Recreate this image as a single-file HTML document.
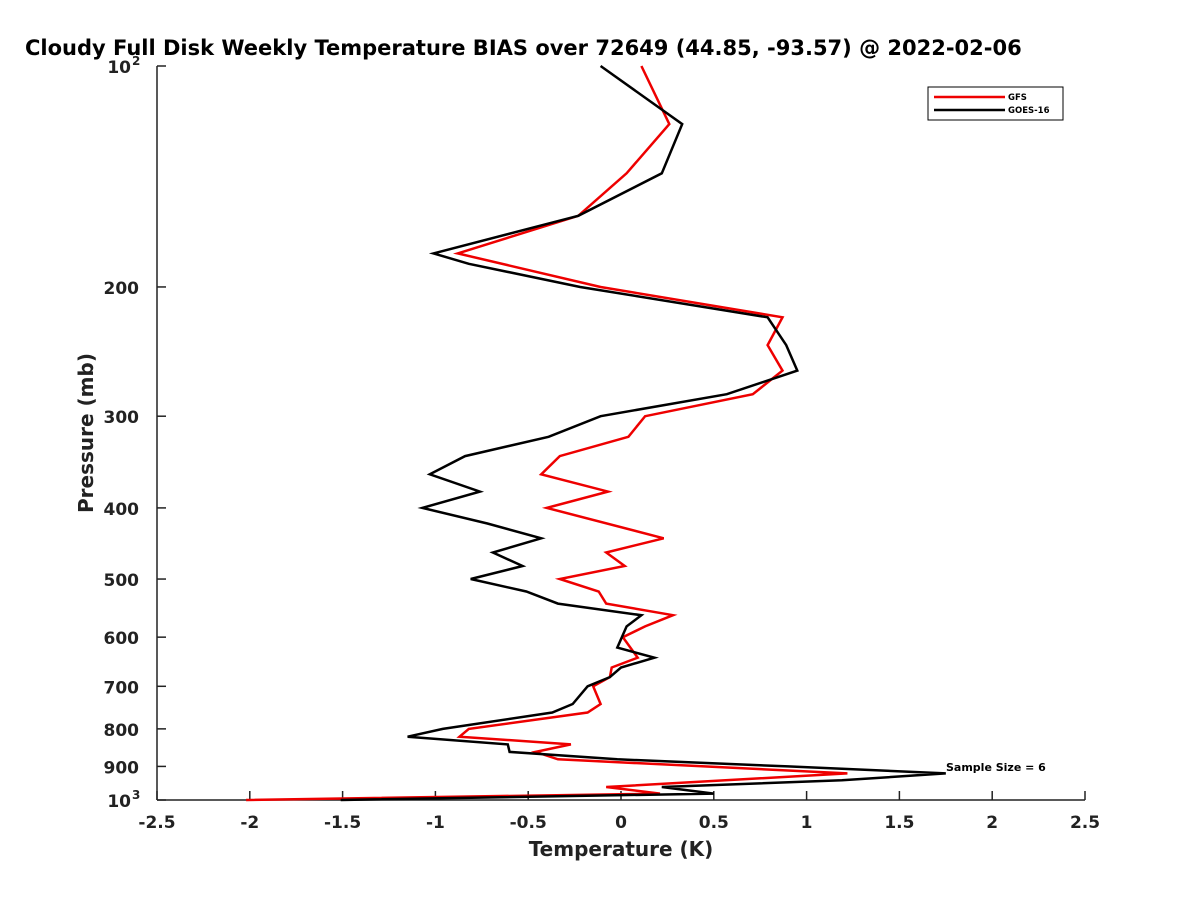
<!DOCTYPE html>
<html><head><meta charset="utf-8"><style>
html,body{margin:0;padding:0;background:#fff}
svg{display:block;font-family:"DejaVu Sans","Liberation Sans",sans-serif}
</style></head><body>
<svg id="chart" width="1200" height="900" viewBox="0 0 1200 900" xmlns="http://www.w3.org/2000/svg">
<rect width="1200" height="900" fill="#fff"/>
<text x="25" y="55" font-size="21" font-weight="bold" fill="#000">Cloudy Full Disk Weekly Temperature BIAS over 72649 (44.85, -93.57) @ 2022-02-06</text>
<g id="axes"></g>
<g id="series"></g>
<text x="946" y="771" font-size="11" font-weight="bold">Sample Size = 6</text>
<g>
<rect x="928" y="87" width="135" height="33" fill="#fff" stroke="#000" stroke-width="1"/>
<line x1="934" y1="97" x2="1005" y2="97" stroke="#e00" stroke-width="2.5"/>
<text x="1008" y="100" font-size="8.5" font-weight="bold">GFS</text>
<line x1="934" y1="110" x2="1005" y2="110" stroke="#000" stroke-width="2.5"/>
<text x="1008" y="113" font-size="8.5" font-weight="bold">GOES-16</text>
</g>
<text x="621" y="856" font-size="20" font-weight="bold" text-anchor="middle" fill="#222">Temperature (K)</text>
<text transform="translate(93,433) rotate(-90)" font-size="20" font-weight="bold" text-anchor="middle" fill="#222">Pressure (mb)</text>
</svg>
<script>
const xTicks = [-2.5,-2,-1.5,-1,-0.5,0,0.5,1,1.5,2,2.5];
const xTickLabels = ["-2.5","-2","-1.5","-1","-0.5","0","0.5","1","1.5","2","2.5"];
const yTicks = [200,300,400,500,600,700,800,900];
const gfsP = [100,120,140,160,180,200,220,240,260,280,300,320,340,360,380,400,440,460,480,500,520,540,560,580,600,640,660,680,700,740,760,800,820,840,860,880,900,920,960,980,1000];
const gfsT = [0.11,0.26,0.03,-0.23,-0.88,-0.11,0.87,0.79,0.87,0.71,0.13,0.04,-0.33,-0.43,-0.07,-0.40,0.23,-0.08,0.02,-0.33,-0.12,-0.08,0.28,0.13,0.01,0.09,-0.05,-0.06,-0.15,-0.11,-0.18,-0.82,-0.87,-0.27,-0.46,-0.34,0.45,1.22,-0.08,0.21,-2.02];
const goesP = [100,120,140,160,180,186,200,220,240,260,280,300,320,340,360,380,400,420,440,460,480,500,520,540,560,580,620,640,660,680,700,740,760,800,820,840,860,880,900,920,940,960,980,1000];
const goesT = [-0.11,0.33,0.22,-0.23,-1.01,-0.82,-0.22,0.79,0.89,0.95,0.57,-0.11,-0.39,-0.84,-1.03,-0.76,-1.07,-0.72,-0.43,-0.69,-0.53,-0.81,-0.51,-0.34,0.11,0.03,-0.02,0.18,0.0,-0.06,-0.18,-0.26,-0.37,-0.96,-1.15,-0.61,-0.60,-0.02,0.9,1.75,1.19,0.22,0.50,-1.51];

const NS="http://www.w3.org/2000/svg";
const X0=157,X1=1085,Y0=66,Y1=800;
function xs(t){return X0+(t+2.5)/5*(X1-X0);}
function ys(p){return Y0+(Math.log10(p)-2)*(Y1-Y0);}
function mk(tag,attrs,parent){const e=document.createElementNS(NS,tag);for(const k in attrs)e.setAttribute(k,attrs[k]);parent.appendChild(e);return e;}
const axes=document.getElementById('axes');
let e=mk('line',{x1:X0,y1:Y1,x2:X1,y2:Y1,stroke:'#222','stroke-width':1.5},axes);


e=mk('line',{x1:X0,y1:Y0,x2:X0,y2:Y1,stroke:'#222','stroke-width':1.5},axes);


xTicks.forEach((t,i)=>{
  const x=xs(t);
  let l=mk('line',{x1:x,y1:Y1,x2:x,y2:Y1-9,stroke:'#222','stroke-width':1.5},axes);
  
  
  let tx=mk('text',{x:x,y:Y1+28,'font-size':17,'font-weight':'bold','text-anchor':'middle',fill:'#222'},axes);
  tx.textContent=xTickLabels[i];
  
  
});
[100].concat(yTicks).concat([1000]).forEach(p=>{
  const y=ys(p);
  let l=mk('line',{x1:X0,y1:y,x2:X0+9,y2:y,stroke:'#222','stroke-width':1.5},axes);
  
  
});
yTicks.forEach(p=>{
  let tx=mk('text',{x:139,y:ys(p)+7,'font-size':17,'font-weight':'bold','text-anchor':'end',fill:'#222'},axes);
  tx.textContent=String(p);
  
  
});
[[100,'2'],[1000,'3']].forEach(([p,s])=>{
  let tx=mk('text',{x:131,y:ys(p)+7,'font-size':17,'font-weight':'bold','text-anchor':'end',fill:'#222'},axes);
  tx.textContent='10';
  
  
  let sp=mk('text',{x:132,y:ys(p)-1,'font-size':12,'font-weight':'bold',fill:'#222'},axes);
  sp.textContent=s;
  
  
});
const series=document.getElementById('series');
function draw(P,T,color,name){
  const pts=P.map((p,i)=>xs(T[i]).toFixed(1)+','+ys(p).toFixed(1)).join(' ');
  const pl=mk('polyline',{points:pts,fill:'none',stroke:color,'stroke-width':2.5,'stroke-linejoin':'miter'},series);
  
  
}
draw(gfsP,gfsT,'#e00','gfs-line');
draw(goesP,goesT,'#000','goes16-line');
</script>
</body></html>
